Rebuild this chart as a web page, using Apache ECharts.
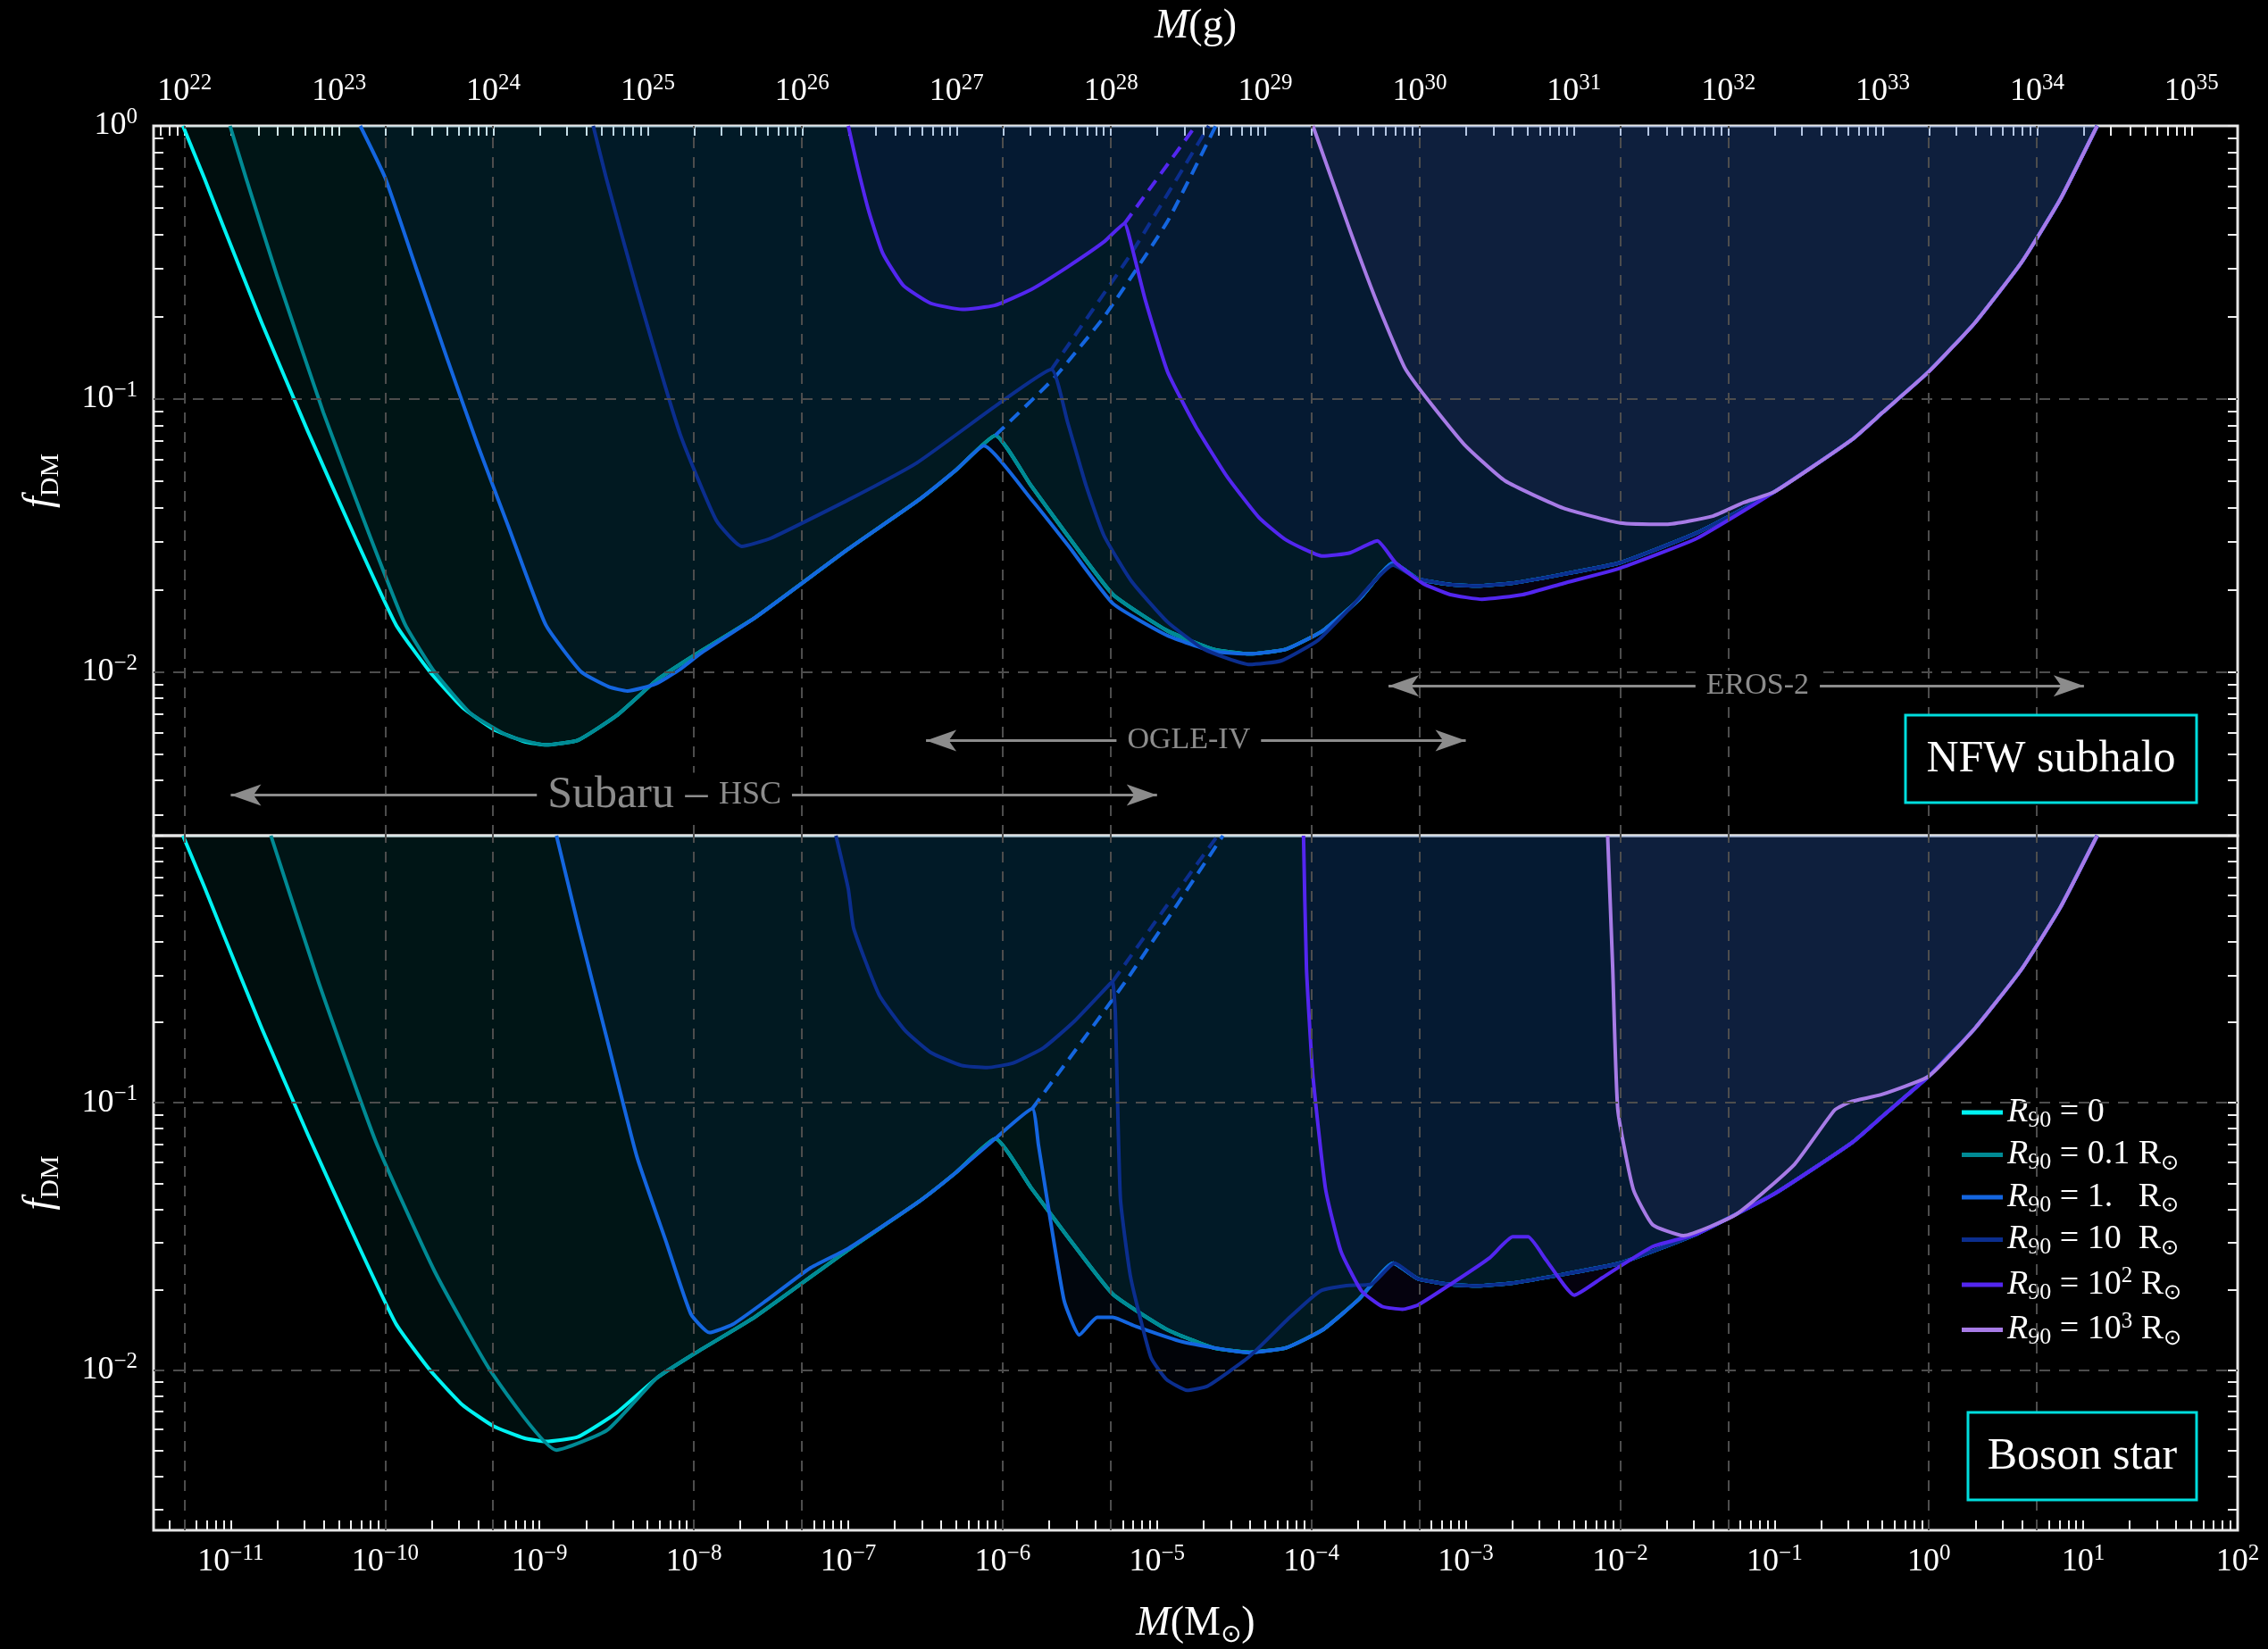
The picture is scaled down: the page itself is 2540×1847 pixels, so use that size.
<!DOCTYPE html>
<html><head><meta charset="utf-8">
<script src="https://cdn.jsdelivr.net/npm/echarts@6/dist/echarts.min.js"></script>
<style>html,body{margin:0;padding:0;background:#000;}#c{width:2540px;height:1847px;}</style>
</head><body><div id="c"></div>
<script>
// ---------------- axis ranges & labels ----------------
const XMIN = 3.1623e-12, XMAX = 100;      // M in solar masses
const YMIN = 2.5119e-3, YMAX = 1;         // f_DM
const MSUN_G = 1.989e33;                  // grams per solar mass
const massLabelsMsun = [1e-11,1e-10,1e-9,1e-8,1e-7,1e-6,1e-5,1e-4,1e-3,1e-2,1e-1,1,10,100];
const massLabelsGram = [1e22,1e23,1e24,1e25,1e26,1e27,1e28,1e29,1e30,1e31,1e32,1e33,1e34,1e35];
const fLabelsTop = [1e-2,1e-1,1];
const fLabelsBottom = [1e-2,1e-1];
const gridLinesM = [5e-12,1e-10,5e-10,1e-8,5e-8,1e-6,5e-6,1e-4,5e-4,1e-2,5e-2,1,5];
const gridLinesF = [0.1,0.01];

// ---------------- survey arrows ----------------
const surveys = [
  {label:'{a|Subaru}{a| \u2013 }{b|HSC}', from:1.0e-11, to:1.0e-5, f:3.54e-3, shift:-33},
  {label:'{c|OGLE-IV}', from:3.19e-7, to:1.0e-3, f:5.6e-3, shift:-8},
  {label:'{c|EROS-2}', from:3.16e-4, to:10.1, f:8.89e-3, shift:24}
];

// ---------------- NFW subhalo (upper panel) ----------------
const nfw_R0 = [[4.90e-12,1.0],[6.76e-12,0.641],[8.91e-12,0.431],[1.585e-11,0.1905],[3.162e-11,0.0759],[6.31e-11,0.0316],[1.175e-10,0.01489],[1.95e-10,0.0100],[3.162e-10,0.00741],[5.01e-10,0.00617],[7.94e-10,0.00556],[1.096e-9,0.00540],
 [1.778e-9,0.00562],[3.162e-9,0.00692],[5.75e-9,0.00933],[1.0e-8,0.01148],[2.512e-8,0.01585],[1.0e-7,0.02818],[2.786e-7,0.04217],[5.01e-7,0.0550],
 [8.97e-7,0.0735],[1.524e-6,0.0482],[2.630e-6,0.0316],[5.19e-6,0.01919],[1.169e-5,0.01413],[2.312e-5,0.01211],[3.981e-5,0.01164],[6.87e-5,0.01211],[1.183e-4,0.01413],[2.042e-4,0.01845],[3.388e-4,0.02512],
 [4.90e-4,0.02193],[7.94e-4,0.02089],[1.191e-3,0.02065],[1.995e-3,0.02113],[4.285e-3,0.02280],[0.01,0.02512],[0.0316,0.03236],[0.1,0.0457],[0.316,0.0708],[0.501,0.0891],[1,0.1259],[1.995,0.1905],[3.981,0.3162],[7.08,0.537],[12.3,1.0]];
const nfw_R01 = [[9.89e-12,1.0],[1.259e-11,0.641],[1.995e-11,0.2818],[3.981e-11,0.0891],[7.94e-11,0.0316],[1.349e-10,0.01489],[2.089e-10,0.0100],[3.548e-10,0.00708],[6.31e-10,0.00582],[1.096e-9,0.00540],
 [1.778e-9,0.00562],[3.162e-9,0.00692],[5.75e-9,0.00933],[1.0e-8,0.01148],[2.512e-8,0.01585],[1.0e-7,0.02818],[2.786e-7,0.04217],[5.01e-7,0.0550],
 [8.97e-7,0.0735],[1.524e-6,0.0482],[2.630e-6,0.0316],[5.19e-6,0.01919],[1.169e-5,0.01413],[2.312e-5,0.01211],[3.981e-5,0.01164],[6.87e-5,0.01211],[1.183e-4,0.01413],[2.042e-4,0.01845],[3.388e-4,0.02512],
 [4.90e-4,0.02193],[7.94e-4,0.02089],[1.191e-3,0.02065],[1.995e-3,0.02113],[4.285e-3,0.02280],[0.01,0.02512],[0.0316,0.03236],[0.1,0.0457],[0.316,0.0708],[0.501,0.0891],[1,0.1259],[1.995,0.1905],[3.981,0.3162],[7.08,0.537],[12.3,1.0]];
const nfw_R1 = [[6.90e-11,1.0],[1.0e-10,0.6457],[1.585e-10,0.302],[2.512e-10,0.1413],[3.981e-10,0.0676],[6.31e-10,0.0339],[1.096e-9,0.01489],[1.862e-9,0.0100],[2.818e-9,0.00881],[3.715e-9,0.00851],[5.62e-9,0.00902],[7.94e-9,0.01012],[1.122e-8,0.01175],
 [2.512e-8,0.01585],[1.0e-7,0.02818],[2.786e-7,0.04217],[5.01e-7,0.0550],[7.57e-7,0.0673],
 [1.524e-6,0.04305],[2.63e-6,0.02924],[5.19e-6,0.01778],[1.169e-5,0.01358],[2.312e-5,0.01189],[3.981e-5,0.01164],[6.87e-5,0.01211],[1.183e-4,0.01413],[2.042e-4,0.01845],[3.388e-4,0.02512],
 [4.90e-4,0.02193],[7.94e-4,0.02089],[1.191e-3,0.02065],[1.995e-3,0.02113],[4.285e-3,0.02280],[0.01,0.02512],[0.0316,0.03236],[0.1,0.0457],[0.316,0.0708],[0.501,0.0891],[1,0.1259],[1.995,0.1905],[3.981,0.3162],[7.08,0.537],[12.3,1.0]];
const nfw_R1_dash = [[8.97e-7,0.0735],[2.143e-6,0.1189],[4.529e-6,0.1995],[1.169e-5,0.4467],[2.399e-5,1.0]];
const nfw_R10 = [[2.228e-9,1.0],[2.710e-9,0.641],[4.266e-9,0.2523],[8.128e-9,0.0745],[1.396e-8,0.0359],[2.042e-8,0.02884],[3.162e-8,0.0309],[1.0e-7,0.04266],[2.786e-7,0.05834],[9.48e-7,0.0962],[2.070e-6,0.1282],
 [2.630e-6,0.0824],[3.467e-6,0.0482],[4.529e-6,0.0316],[6.81e-6,0.02153],[1.169e-5,0.01524],[2.018e-5,0.01211],[3.981e-5,0.01064],[6.41e-5,0.01099],[1.104e-4,0.01306],[1.778e-4,0.0171],[3.388e-4,0.0246],
 [4.90e-4,0.02193],[7.94e-4,0.02089],[1.191e-3,0.02065],[1.995e-3,0.02113],[4.285e-3,0.02280],[0.01,0.02512],[0.0316,0.03236],[0.1,0.0457],[0.316,0.0708],[0.501,0.0891],[1,0.1259],[1.995,0.1905],[3.981,0.3162],[7.08,0.537],[12.3,1.0]];
const nfw_R10_dash = [[2.070e-6,0.1282],[6.81e-6,0.3412],[2.163e-5,1.0]];
const nfw_R100 = [[1.0e-7,1.0],[1.148e-7,0.708],[1.365e-7,0.482],[1.675e-7,0.341],[2.270e-7,0.2606],[3.420e-7,0.2239],[5.495e-7,0.2128],[8.85e-7,0.2198],[1.524e-6,0.2512],[2.630e-6,0.3041],[4.529e-6,0.3758],[6.15e-6,0.4385],
 [6.81e-6,0.3681],[8.36e-6,0.2323],[1.169e-5,0.1259],[1.778e-5,0.0794],[2.838e-5,0.052],[4.571e-5,0.0368],[6.87e-5,0.0304],[1.183e-4,0.02655],[1.778e-4,0.02729],[2.673e-4,0.0302],
 [3.508e-4,0.02512],[5.27e-4,0.02109],[7.94e-4,0.01919],[1.274e-3,0.01845],[2.344e-3,0.01919],[4.285e-3,0.02109],[0.01,0.02399],[0.0316,0.0309],[0.1,0.0457],[0.316,0.0708],[0.501,0.0891],[1,0.1259],[1.995,0.1905],[3.981,0.3162],[7.08,0.537],[12.3,1.0]];
const nfw_R100_dash = [[6.15e-6,0.4385],[1.778e-5,1.0]];
const nfw_R1000 = [[1.023e-4,1.0],[1.778e-4,0.414],[2.673e-4,0.2239],[4.009e-4,0.1306],[5.62e-4,0.1],[9.77e-4,0.0681],[1.795e-3,0.0501],[4.285e-3,0.0398],[0.01,0.0351],[0.01995,0.0347],[0.0398,0.0372],[0.0631,0.0417],[0.1,0.0457],[0.316,0.0708],[0.501,0.0891],[1,0.1259],[1.995,0.1905],[3.981,0.3162],[7.08,0.537],[12.3,1.0]];

// ---------------- Boson star (lower panel) ----------------
const bos_R0 = nfw_R0;   // R90 = 0 is profile independent
const bos_R01 = [[1.820e-11,1.0],[3.715e-11,0.2818],[8.71e-11,0.0714],[2.089e-10,0.02344],[4.898e-10,0.00977],[1.288e-9,0.00501],[2.754e-9,0.00596],
 [5.75e-9,0.00933],[1.0e-8,0.01148],[2.512e-8,0.01585],[1.0e-7,0.02818],[2.786e-7,0.04217],[5.01e-7,0.0550],
 [8.97e-7,0.0735],[1.524e-6,0.0482],[2.630e-6,0.0316],[5.19e-6,0.01919],[1.169e-5,0.01413],[2.312e-5,0.01211],[3.981e-5,0.01164],[6.87e-5,0.01211],[1.183e-4,0.01413],[2.042e-4,0.01845],[3.388e-4,0.02512],
 [4.90e-4,0.02193],[7.94e-4,0.02089],[1.191e-3,0.02065],[1.995e-3,0.02113],[4.285e-3,0.02280],[0.01,0.02512],[0.0316,0.03236],[0.1,0.0457],[0.316,0.0708],[0.501,0.0891],[1,0.1259],[1.995,0.1905],[3.981,0.3162],[7.08,0.537],[12.3,1.0]];
const bos_R1 = [[1.288e-9,1.0],[1.778e-9,0.4624],[2.754e-9,0.1706],[4.266e-9,0.0631],[6.61e-9,0.0302],[9.55e-9,0.01622],[1.259e-8,0.0138],[1.778e-8,0.01479],[2.951e-8,0.0182],[5.62e-8,0.024],[1.0e-7,0.0285],
 [2.786e-7,0.04217],[5.01e-7,0.0550],[8.97e-7,0.0735],[1.556e-6,0.0951],
 [1.706e-6,0.0695],[2.494e-6,0.01832],[3.141e-6,0.01352],[4.1e-6,0.01574],[5.16e-6,0.01574],[7.29e-6,0.01456],[1.449e-5,0.01276],[3.926e-5,0.01161],[6.87e-5,0.01211],[1.183e-4,0.01413],[2.042e-4,0.01845],[3.388e-4,0.02512],
 [4.90e-4,0.02193],[7.94e-4,0.02089],[1.191e-3,0.02065],[1.995e-3,0.02113],[4.285e-3,0.02280],[0.01,0.02512],[0.0316,0.03236],[0.1,0.0457],[0.316,0.0708],[0.501,0.0891],[1,0.1259],[1.995,0.1905],[3.981,0.3162],[7.08,0.537],[12.3,1.0]];
const bos_R1_dash = [[1.556e-6,0.0951],[6.25e-6,0.2844],[2.673e-5,1.0]];
const bos_R10 = [[8.32e-8,1.0],[1.0e-7,0.6324],[1.084e-7,0.4498],[1.585e-7,0.2535],[2.323e-7,0.1871],[3.412e-7,0.1545],[5.41e-7,0.138],[7.94e-7,0.1355],[1.161e-6,0.1406],[1.841e-6,0.1607],[2.911e-6,0.2018],[4.977e-6,0.2793],[5.16e-6,0.2844],
 [5.37e-6,0.2178],[5.79e-6,0.044],[6.75e-6,0.02218],[9.12e-6,0.01117],[1.148e-5,0.00923],[1.567e-5,0.00839],[2.128e-5,0.00871],[3.926e-5,0.01117],[7.24e-5,0.01574],[1.143e-4,0.01977],[1.679e-4,0.0207],[2.455e-4,0.02094],[3.467e-4,0.02512],
 [4.90e-4,0.02193],[7.94e-4,0.02089],[1.191e-3,0.02065],[1.995e-3,0.02113],[4.285e-3,0.02280],[0.01,0.02512],[0.0316,0.03236],[0.1,0.0457],[0.316,0.0708],[0.501,0.0891],[1,0.1259],[1.995,0.1905],[3.981,0.3162],[7.08,0.537],[12.3,1.0]];
const bos_R10_dash = [[5.16e-6,0.2844],[1.148e-5,0.5433],[2.472e-5,1.0]];
const bos_R100 = [[8.89e-5,1.0],[9.29e-5,0.3192],[1.021e-4,0.1279],[1.236e-4,0.0475],[1.552e-4,0.02786],[2.109e-4,0.01977],[2.864e-4,0.0173],[3.890e-4,0.01687],[4.898e-4,0.0175],[8.37e-4,0.02133],[1.429e-3,0.0263],[2.014e-3,0.0315],[2.535e-3,0.0315],[3.311e-3,0.02582],[5.05e-3,0.01905],[7.69e-3,0.02218],[0.01622,0.02897],
 [0.0316,0.03236],[0.1,0.0457],[0.316,0.0708],[0.501,0.0891],[1,0.1259],[1.995,0.1905],[3.981,0.3162],[7.08,0.537],[12.3,1.0]];
const bos_R1000 = [[8.30e-3,1.0],[8.95e-3,0.3192],[9.66e-3,0.0942],[0.01216,0.0475],[0.01622,0.035],[0.0257,0.03184],[0.0569,0.03837],[0.1349,0.0589],[0.2455,0.0940],[0.3162,0.1012],[0.4898,0.1072],[1,0.1259],[1.995,0.1905],[3.981,0.3162],[7.08,0.537],[12.3,1.0]];

// ---------------- styling ----------------
const SERIF = '"Liberation Serif","DejaVu Serif",serif';
const COL = {R0:'#00f2f2', R01:'#008a94', R1:'#1466e0', R10:'#0b2e8e', R100:'#5326f0', R1000:'#a77be6'};
const FILL_OP = 0.06;

function logTicks(lo, hi){ const t=[]; for(let e=lo;e<=hi;e++) for(let k=1;k<=9;k++) t.push(k*Math.pow(10,e)); return t; }
function pow10Label(v){ const e=Math.round(Math.log10(v)); return '{b|10}{s|'+(e<0?'\u2212'+(-e):e)+'}'; }
const labelRich = {
  b:{fontSize:36,fontFamily:SERIF,color:'#fff',lineHeight:44},
  s:{fontSize:25,fontFamily:SERIF,color:'#fff',lineHeight:30,verticalAlign:'top'}
};
const tickBase = {show:true, inside:true, length:11, lineStyle:{color:'#eeeeee', width:2}};
const nameRich = {
  i:{fontSize:46,fontFamily:SERIF,fontStyle:'italic',color:'#fff',lineHeight:54},
  n:{fontSize:46,fontFamily:SERIF,color:'#fff',lineHeight:54},
  d:{fontSize:30,fontFamily:SERIF,color:'#fff',lineHeight:34,verticalAlign:'bottom'},
  o:{fontSize:28,fontFamily:'"DejaVu Sans",sans-serif',color:'#fff',lineHeight:32,verticalAlign:'bottom'}
};

function xLog(grid, pos, extra){
  return Object.assign({gridIndex:grid, type:'log', min:XMIN, max:XMAX, position:pos,
    axisLine:{show:false}, axisTick:{show:false}, axisLabel:{show:false}, splitLine:{show:false}, minorTick:{show:false}}, extra||{});
}
function yLog(grid, pos, extra){
  return Object.assign({gridIndex:grid, type:'log', min:YMIN, max:YMAX, position:pos,
    axisLine:{show:false}, axisTick:Object.assign({}, tickBase, {customValues:logTicks(-3,0)}), axisLabel:{show:false}, splitLine:{show:false}}, extra||{});
}

const xAxes = [
  xLog(0,'bottom'),
  xLog(0,'top',{min:XMIN*MSUN_G, max:XMAX*MSUN_G,
    axisTick:Object.assign({}, tickBase, {customValues:logTicks(21,35)}),
    axisLabel:{show:true, customValues:massLabelsGram, formatter:pow10Label, margin:16, rich:labelRich},
    name:'{i|M}{n|(g)}', nameLocation:'middle', nameGap:84, nameTextStyle:{rich:nameRich}}),
  xLog(1,'bottom',{
    axisTick:Object.assign({}, tickBase, {customValues:logTicks(-12,2)}),
    axisLabel:{show:true, customValues:massLabelsMsun, formatter:pow10Label, margin:14, rich:labelRich},
    name:'{i|M}{n|(M}{o|\u2299}{n|)}', nameLocation:'middle', nameGap:78, nameTextStyle:{rich:nameRich}})
];
const yName = {name:'{i|f}{d|DM}', nameLocation:'middle', nameRotate:90, nameGap:100, nameTextStyle:{rich:nameRich}};
const yAxes = [
  yLog(0,'left',Object.assign({axisLabel:{show:true, customValues:fLabelsTop, formatter:pow10Label, margin:18, rich:labelRich}}, yName)),
  yLog(0,'right'),
  yLog(1,'left',Object.assign({axisLabel:{show:true, customValues:fLabelsBottom, formatter:pow10Label, margin:18, rich:labelRich}}, yName)),
  yLog(1,'right')
];

const series = [];
function curve(name, data, color, panel, dashed){
  const s = {type:'line', name:name, data:data, xAxisIndex: panel===0?0:2, yAxisIndex: panel===0?0:2,
    symbol:'none', showSymbol:false, clip:true, silent:true, animation:false, z:3, color:color,
    smooth: 0.15,
    lineStyle:{color:color, width:4, type: dashed ? [14,9] : 'solid', join:'round'}, itemStyle:{color:color}};
  if(!dashed) s.areaStyle = {color:color, opacity:FILL_OP, origin:'end'};
  series.push(s);
}
// grid lines (dummy series carrying markLines with explicit coordinate pairs)
[0,1].forEach(p=>{
  const v = gridLinesM.map(x=>[{coord:[x,YMIN]},{coord:[x,YMAX]}]);
  const h = gridLinesF.map(f=>[{coord:[XMIN,f]},{coord:[XMAX,f]}]);
  series.push({type:'line', name:'grid'+p, data:[], xAxisIndex:p===0?0:2, yAxisIndex:p===0?0:2, z:1, silent:true,
    markLine:{silent:true, symbol:'none', animation:false, label:{show:false},
      lineStyle:{color:'#4d4d4d', width:2, type:[12,10]}, data: v.concat(h)}});
});
const panels = [
  {p:0, d:{R0:nfw_R0,R01:nfw_R01,R1:nfw_R1,R10:nfw_R10,R100:nfw_R100,R1000:nfw_R1000}, dash:{R1:nfw_R1_dash,R10:nfw_R10_dash,R100:nfw_R100_dash}},
  {p:1, d:{R0:bos_R0,R01:bos_R01,R1:bos_R1,R10:bos_R10,R100:bos_R100,R1000:bos_R1000}, dash:{R1:bos_R1_dash,R10:bos_R10_dash}}
];
panels.forEach(P=>{
  ['R0','R01','R1','R10','R100','R1000'].forEach(k=>{
    curve(k, P.d[k], COL[k], P.p, false);
    if(P.dash[k]) curve(k+'-dash', P.dash[k], COL[k], P.p, true);
  });
});
// survey arrows
series.push({type:'line', name:'surveys', data:[], xAxisIndex:0, yAxisIndex:0, z:5, silent:true,
  markLine:{silent:true, animation:false, symbol:['arrow','arrow'], symbolSize:[18,34],
    lineStyle:{color:'#8c8c8c', width:3, type:'solid'},
    label:{show:true, position:'middle', distance:0, verticalAlign:'middle', backgroundColor:'#000', padding:[0,12], color:'#8c8c8c',
      rich:{a:{fontSize:50,fontFamily:SERIF,color:'#8c8c8c'}, b:{fontSize:36,fontFamily:SERIF,color:'#8c8c8c'}, c:{fontSize:34,fontFamily:SERIF,color:'#8c8c8c'}}},
    data: surveys.map(s=>[{coord:[s.from,s.f], label:{formatter:s.label, offset:[s.shift,0]}},{coord:[s.to,s.f]}])}});

const legendText = {
  R0:'{i|R}{sub|90}{t| = 0}',
  R01:'{i|R}{sub|90}{t| = 0.1 R}{o|\u2299}',
  R1:'{i|R}{sub|90}{t| = 1.\u2002 R}{o|\u2299}',
  R10:'{i|R}{sub|90}{t| = 10\u2005 R}{o|\u2299}',
  R100:'{i|R}{sub|90}{t| = 10}{sup|2}{t| R}{o|\u2299}',
  R1000:'{i|R}{sub|90}{t| = 10}{sup|3}{t| R}{o|\u2299}'
};

const option = {
  backgroundColor:'#000',
  animation:false,
  grid:[
    {left:172, top:141, width:2334, height:795, show:true, borderColor:'#e6e6e6', borderWidth:3, backgroundColor:'transparent'},
    {left:172, top:936, width:2334, height:778, show:true, borderColor:'#e6e6e6', borderWidth:3, backgroundColor:'transparent'}
  ],
  xAxis:xAxes,
  yAxis:yAxes,
  legend:{data:['R0','R01','R1','R10','R100','R1000'], orient:'vertical', left:2192, top:1222,
    icon:'rect', itemWidth:46, itemHeight:5, itemGap:6.5, backgroundColor:'#000', padding:5,
    selectedMode:false, formatter:n=>legendText[n],
    textStyle:{color:'#fff', fontFamily:SERIF, fontSize:38, rich:{
      i:{fontSize:38,fontFamily:SERIF,fontStyle:'italic',color:'#fff',lineHeight:44},
      t:{fontSize:38,fontFamily:SERIF,color:'#fff',lineHeight:44},
      sub:{fontSize:26,fontFamily:SERIF,color:'#fff',lineHeight:22,verticalAlign:'bottom'},
      sup:{fontSize:25,fontFamily:SERIF,color:'#fff',lineHeight:30,verticalAlign:'top'},
      o:{fontSize:24,fontFamily:'"DejaVu Sans",sans-serif',color:'#fff',lineHeight:22,verticalAlign:'bottom'}}}},
  graphic:[
    {type:'rect', z:20, shape:{x:2134, y:801, width:326, height:98}, style:{fill:'#000', stroke:'#00dede', lineWidth:3}},
    {type:'text', z:21, x:2297, y:851, style:{text:'NFW subhalo', font:'50px "Liberation Serif", serif', fill:'#fff', align:'center', verticalAlign:'middle'}},
    {type:'rect', z:20, shape:{x:2204, y:1582, width:256, height:98}, style:{fill:'#000', stroke:'#00dede', lineWidth:3}},
    {type:'text', z:21, x:2332, y:1632, style:{text:'Boson star', font:'50px "Liberation Serif", serif', fill:'#fff', align:'center', verticalAlign:'middle'}}
  ],
  series:series
};
const chart = echarts.init(document.getElementById('c'), null, {renderer:'canvas'});
chart.setOption(option);
</script></body></html>
